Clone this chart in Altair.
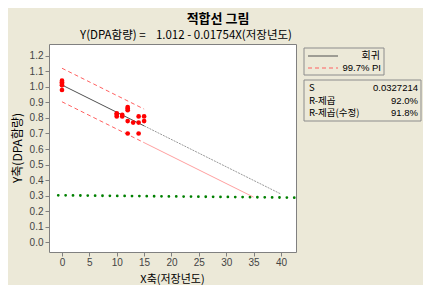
import altair as alt
import pandas as pd

# ---- data ----
x_pts = [0, 0, 0, 0, 0, 10, 10, 10, 11, 11, 12, 12, 12, 12, 12, 13, 14, 14, 14, 15, 15]
y_pts = [1.04, 1.03, 1.02, 1.01, 0.98, 0.83, 0.82, 0.81, 0.82, 0.81,
         0.87, 0.86, 0.85, 0.78, 0.70, 0.77, 0.81, 0.77, 0.70, 0.81, 0.78]

fit_x = [0, 15]
fit_y = [1.012, 0.749]
fit_ext_x = [15, 40]
fit_ext_y = [0.749, 0.310]
pi_up_x = [0, 15]
pi_up_y = [1.120, 0.857]
pi_lo_x = [0, 15]
pi_lo_y = [0.904, 0.641]
pi_lo_ext_x = [15, 35]
pi_lo_ext_y = [0.641, 0.290]
green_x = [-0.68, 42.5]
green_y = [0.302, 0.287]

x_ticks = [0, 5, 10, 15, 20, 25, 30, 35, 40]
y_ticks = [0.0, 0.1, 0.2, 0.3, 0.4, 0.5, 0.6, 0.7, 0.8, 0.9, 1.0, 1.1, 1.2]

title_text = "적합선 그림"
subtitle_text = "Y(DPA함량)\u00a0=\u00a0\u00a0\u00a0\u00a01.012\u00a0-\u00a00.01754X(저장년도)"
x_title = "X축(저장년도)"
y_title = "Y축(DPA함량)"
legend_items = ["회귀", "99.7% PI"]
stats_names = ["S", "R-제곱", "R-제곱(수정)"]
stats_values = ["0.0327214", "92.0%", "91.8%"]

W, H = 247, 208
KR = "Noto Sans CJK KR"
NUM = "Liberation Sans"

xs = alt.Scale(domain=[-2.37, 42.74], nice=False, zero=False)
ys = alt.Scale(domain=[-0.063, 1.276], nice=False, zero=False)

xax = alt.Axis(values=x_ticks, title=None, grid=False, domain=False, tickSize=4,
               tickColor="#808080", labelFont=NUM, labelFontSize=10, labelColor="#444444",
               labelPadding=1)
yax = alt.Axis(values=y_ticks, format=".1f", title=None, grid=False, domain=False, tickSize=4,
               tickColor="#808080", labelFont=NUM, labelFontSize=10, labelColor="#444444",
               labelPadding=2)


def seg(xv, yv, **mk):
    df = pd.DataFrame({"x": xv, "y": yv})
    return alt.Chart(df).mark_line(**mk).encode(
        x=alt.X("x:Q", scale=xs, axis=xax), y=alt.Y("y:Q", scale=ys, axis=yax))


one = pd.DataFrame({"a": [0]})


def txt(t, x, y, **mk):
    return alt.Chart(one).mark_text(text=t, **mk).encode(x=alt.value(x), y=alt.value(y))


pts = alt.Chart(pd.DataFrame({"x": x_pts, "y": y_pts})).mark_circle(
    color="#ff0000", size=22, opacity=1).encode(
    x=alt.X("x:Q", scale=xs, axis=xax), y=alt.Y("y:Q", scale=ys, axis=yax))

layers = [
    seg(green_x, green_y, color="#008000", strokeWidth=2.8, strokeCap="round", strokeDash=[0, 7.375]),
    seg(fit_ext_x, fit_ext_y, color="#9a9a9a", strokeWidth=1, strokeDash=[2, 1]),
    seg(pi_lo_ext_x, pi_lo_ext_y, color="#ffa0a0", strokeWidth=1),
    seg(pi_up_x, pi_up_y, color="#ff6060", strokeWidth=1, strokeDash=[4, 3]),
    seg(pi_lo_x, pi_lo_y, color="#ff6060", strokeWidth=1, strokeDash=[4, 3]),
    seg(fit_x, fit_y, color="#505050", strokeWidth=1),
    pts,
    # titles
    txt(title_text, 169, -25.5, font=KR, fontSize=13, fontWeight="bold", color="#000000",
        align="center", baseline="middle"),
    txt(subtitle_text, 137, -8, font=KR, fontSize=11.5, color="#000000",
        align="center", baseline="middle"),
    txt(x_title, W / 2, 241, font=KR, fontSize=11, color="#000000",
        align="center", baseline="bottom"),
    txt(y_title, -31.5, H / 2, font=KR, fontSize=12, color="#000000",
        align="center", baseline="middle", angle=270),
    # legend box 1
    alt.Chart(one).mark_rect(filled=False, stroke="#8c8c8c", strokeWidth=1).encode(
        x=alt.value(255), x2=alt.value(335), y=alt.value(4), y2=alt.value(31)),
    alt.Chart(one).mark_rule(color="#505050", strokeWidth=1).encode(
        x=alt.value(259), x2=alt.value(289), y=alt.value(12)),
    alt.Chart(one).mark_rule(color="#ff6060", strokeWidth=1, strokeDash=[4, 3]).encode(
        x=alt.value(259), x2=alt.value(289), y=alt.value(24)),
    txt(legend_items[0], 331, 12, font=KR, fontSize=10, color="#000000", align="right", baseline="middle"),
    txt(legend_items[1], 332, 24, font=NUM, fontSize=9.5, color="#000000", align="right", baseline="middle"),
    # legend box 2
    alt.Chart(one).mark_rect(filled=False, stroke="#8c8c8c", strokeWidth=1).encode(
        x=alt.value(255), x2=alt.value(372), y=alt.value(36), y2=alt.value(77)),
]
row_y = [44, 56.5, 69]
for name, val, yy in zip(stats_names, stats_values, row_y):
    layers.append(txt(name, 260, yy, font=KR, fontSize=9.5, color="#000000", align="left", baseline="middle"))
    layers.append(txt(val, 369, yy, font=NUM, fontSize=9.5, color="#000000", align="right", baseline="middle"))

chart = alt.layer(*layers).properties(
    width=W, height=H, background="#ECE9D8",
    autosize=alt.AutoSizeParams(type="none"),
    padding={"left": 41, "top": 36, "right": 127, "bottom": 33},
).configure_view(fill="#ffffff", stroke="#808080", strokeWidth=1)

chart.save("out.html", embed_options={"renderer": "svg", "actions": False})
